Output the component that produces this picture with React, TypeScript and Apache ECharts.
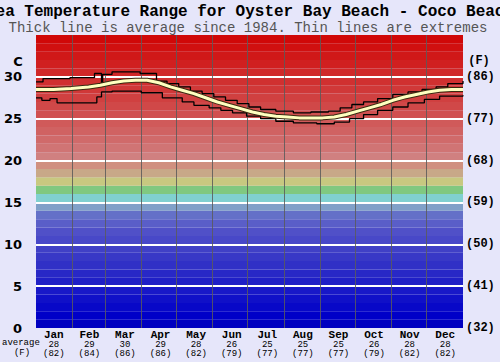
import { useEffect, useRef } from 'react';
import * as echarts from 'echarts';

const months = ['Jan', 'Feb', 'Mar', 'Apr', 'May', 'Jun', 'Jul', 'Aug', 'Sep', 'Oct', 'Nov', 'Dec'];
const monthAvgC = [28, 29, 30, 29, 28, 26, 25, 25, 25, 26, 28, 28];
const monthAvgF = [82, 84, 86, 86, 82, 79, 77, 77, 77, 79, 82, 82];
const monthStarts = [31, 59, 90, 120, 151, 181, 212, 243, 273, 304, 334];
const gridTemps = [5, 10, 15, 20, 25, 30];

const avgDays = [0, 15, 30, 45, 55, 65, 75, 85, 95, 105, 115, 125, 135, 145, 155, 165, 175, 185, 195, 205, 215, 225, 235, 245, 255, 265, 275, 285, 295, 305, 315, 325, 335, 345, 355, 365];
const avgTemps = [28.5, 28.5, 28.6, 28.8, 29.0, 29.3, 29.5, 29.6, 29.6, 29.3, 28.8, 28.4, 28.0, 27.5, 27.0, 26.6, 26.2, 25.8, 25.5, 25.3, 25.2, 25.1, 25.1, 25.1, 25.2, 25.5, 25.9, 26.3, 26.7, 27.2, 27.6, 27.9, 28.2, 28.4, 28.5, 28.5];

const maxDays = [0, 6, 29, 50, 56, 57, 65, 89, 103, 112, 122, 132, 142, 152, 162, 172, 182, 192, 205, 220, 235, 250, 260, 270, 280, 292, 305, 318, 330, 342, 352, 365];
const maxTemps = [29.4, 29.8, 29.9, 30.4, 28.9, 30.3, 30.6, 30.4, 29.5, 29.2, 28.8, 28.3, 28.0, 27.6, 27.2, 26.8, 26.4, 26.1, 25.9, 25.7, 25.8, 25.9, 26.3, 26.7, 27.0, 27.4, 27.9, 28.2, 28.5, 28.8, 29.2, 29.5];

const minDays = [0, 5, 12, 18, 52, 56, 65, 90, 108, 125, 135, 148, 158, 168, 180, 192, 205, 220, 240, 255, 268, 280, 292, 305, 318, 332, 345, 365];
const minTemps = [27.5, 27.2, 27.4, 26.9, 27.6, 28.2, 28.3, 28.1, 27.5, 27.0, 26.6, 26.3, 26.0, 25.7, 25.3, 25.0, 24.7, 24.5, 24.4, 24.6, 25.0, 25.5, 26.0, 26.4, 26.9, 27.3, 27.7, 27.8];

const bandColors = [
  '#0000c0', '#0000c8', '#0808c8', '#1010c8', '#1818c8',
  '#2020c6', '#2828c6', '#3030c6', '#3838c6', '#4040c6',
  '#4848c8', '#5050c8', '#5a5ec8', '#6470c8', '#80a0c8',
  '#80d0d0', '#80c880', '#c8c880', '#c8a888', '#d09080',
  '#d08080', '#d07474', '#d06a6a', '#d06262', '#d05a5a',
  '#d05050', '#d04848', '#d04040', '#d03838', '#d03030',
  '#d02828', '#d02020', '#d01818', '#d01010', '#d00808',
];

const zip = (xs: number[], ys: number[]) => xs.map((x, i) => [x, ys[i]]);

export default function App() {
  const ref = useRef<HTMLDivElement>(null);
  useEffect(() => {
    if (!ref.current) return;
    const chart = echarts.init(ref.current, undefined, { renderer: 'svg' });
    const mono = 'Liberation Mono, Courier New, monospace';
    const option: any = {
      animation: false,
      backgroundColor: '#e6e6fa',
      grid: { left: 36, right: 37, top: 35, bottom: 34 },
      xAxis: [
        { type: 'value', min: 0, max: 365, show: false },
        {
          type: 'category',
          data: months,
          boundaryGap: true,
          position: 'bottom',
          axisLine: { show: false },
          axisTick: { show: false },
          splitLine: { show: false },
          axisLabel: {
            margin: 1,
            interval: 0,
            formatter: (v: string, i: number) => `{m|${v}}\n{v|${monthAvgC[i]}}\n{v|(${monthAvgF[i]})}`,
            rich: {
              m: { fontFamily: mono, fontWeight: 'bold', fontSize: 11, lineHeight: 11, color: '#000' },
              v: { fontFamily: mono, fontSize: 9, lineHeight: 9, color: '#000' },
            },
          },
        },
      ],
      yAxis: [
        {
          type: 'value', min: 0, max: 35, interval: 5, position: 'left',
          splitLine: { show: false }, axisLine: { show: false }, axisTick: { show: false },
          axisLabel: {
            formatter: (v: number) => (v === 35 ? '' : String(v)),
            margin: 14, fontWeight: 'bold', fontSize: 13, fontFamily: 'DejaVu Sans', color: '#000',
          },
        },
        {
          type: 'value', min: 0, max: 35, interval: 5, position: 'right',
          splitLine: { show: false }, axisLine: { show: false }, axisTick: { show: false },
          axisLabel: {
            formatter: (v: number) => (v === 35 ? '' : `(${Math.round((v * 9) / 5 + 32)})`),
            margin: 3, fontWeight: 'bold', fontSize: 12, fontFamily: mono, color: '#000',
          },
        },
      ],
      series: [
        {
          type: 'line', xAxisIndex: 0, yAxisIndex: 0, silent: true, z: 1,
          data: zip(avgDays, avgTemps), symbol: 'none', lineStyle: { opacity: 0 },
          markArea: {
            silent: true,
            data: bandColors.map((c, i) => [{ yAxis: i, itemStyle: { color: c } }, { yAxis: i + 1 }]),
          },
          markLine: {
            silent: true, symbol: 'none', z: 2, label: { show: false },
            data: [
              ...gridTemps.map((t) => ({ yAxis: t, lineStyle: { color: '#ffffff', width: 2, type: 'solid' } })),
              ...monthStarts.map((d) => ({ xAxis: d, lineStyle: { color: 'rgba(90,90,90,0.85)', width: 1, type: 'solid' } })),
            ],
          },
        },
        {
          type: 'line', xAxisIndex: 0, yAxisIndex: 0, z: 4, step: 'end', symbol: 'none',
          data: zip(maxDays, maxTemps), lineStyle: { color: '#000', width: 1.3 },
        },
        {
          type: 'line', xAxisIndex: 0, yAxisIndex: 0, z: 4, step: 'end', symbol: 'none',
          data: zip(minDays, minTemps), lineStyle: { color: '#000', width: 1.3 },
        },
        {
          type: 'line', xAxisIndex: 0, yAxisIndex: 0, z: 5, symbol: 'none',
          data: zip(avgDays, avgTemps), lineStyle: { color: '#3a2a10', width: 5 },
        },
        {
          type: 'line', xAxisIndex: 0, yAxisIndex: 0, z: 6, symbol: 'none',
          data: zip(avgDays, avgTemps), lineStyle: { color: '#ffffc0', width: 3 },
        },
      ],
      graphic: [
        { type: 'text', x: 250, y: 12, style: { text: 'Sea Temperature Range for Oyster Bay Beach - Coco Beach', font: `bold 16px ${mono}`, fill: '#000', align: 'center', verticalAlign: 'middle' } },
        { type: 'text', x: 248, y: 28, style: { text: 'Thick line is average since 1984. Thin lines are extremes', font: `14px ${mono}`, fill: '#555', align: 'center', verticalAlign: 'middle' } },
        { type: 'text', x: 18, y: 61, style: { text: 'C', font: 'bold 13px DejaVu Sans', fill: '#000', align: 'center', verticalAlign: 'middle' } },
        { type: 'text', x: 479, y: 61, style: { text: '(F)', font: `bold 12px ${mono}`, fill: '#000', align: 'center', verticalAlign: 'middle' } },
        { type: 'text', x: 2, y: 343, style: { text: 'average', font: `9px ${mono}`, fill: '#000', align: 'left', verticalAlign: 'middle' } },
        { type: 'text', x: 22, y: 353, style: { text: '(F)', font: `9px ${mono}`, fill: '#000', align: 'center', verticalAlign: 'middle' } },
      ],
    };
    chart.setOption(option);
    return () => chart.dispose();
  }, []);
  return <div ref={ref} style={{ position: 'fixed', left: 0, top: 0, width: 500, height: 362 }} />;
}
